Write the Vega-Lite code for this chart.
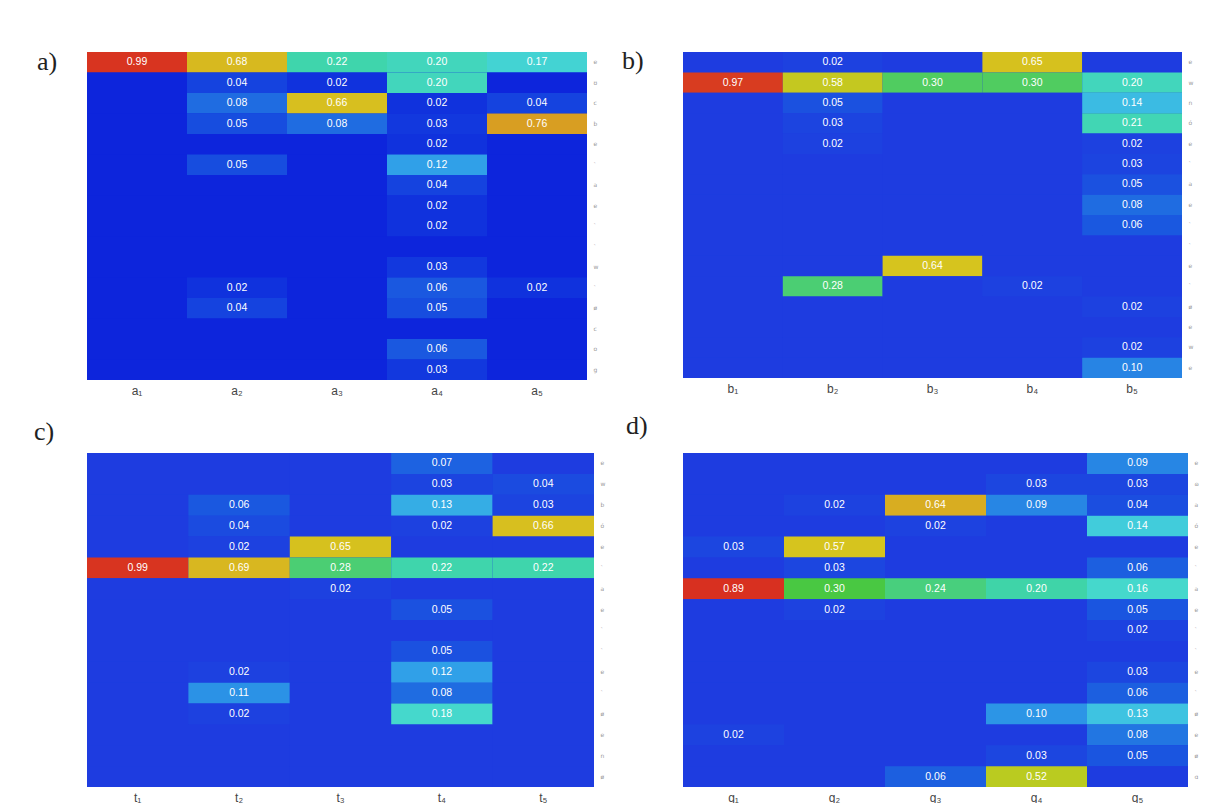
{
  "$schema": "https://vega.github.io/schema/vega-lite/v6.json",
  "background": "white",
  "padding": {"left": 34, "top": 48, "right": 0, "bottom": 0},
  "autosize": {"type": "pad"},
  "config": {
    "view": {"stroke": null},
    "axis": {"ticks": false, "domain": false, "grid": false, "title": null},
    "title": {"font": "Liberation Serif", "fontSize": 26, "fontWeight": "normal", "color": "#222222", "orient": "top", "anchor": "start", "frame": "group", "baseline": "top", "offset": 0}
  },
  "columns": 2,
  "spacing": {"row": 73, "column": 89},
  "bounds": "flush",
  "resolve": {"scale": {"x": "independent", "y": "independent", "color": "independent"}},
  "datasets": {
    "a": [
      {"c":"a₁","r":1,"v":0.99},{"c":"a₂","r":1,"v":0.68},{"c":"a₃","r":1,"v":0.22},{"c":"a₄","r":1,"v":0.20},{"c":"a₅","r":1,"v":0.17},
      {"c":"a₁","r":2,"v":0},{"c":"a₂","r":2,"v":0.04},{"c":"a₃","r":2,"v":0.02},{"c":"a₄","r":2,"v":0.20},{"c":"a₅","r":2,"v":0},
      {"c":"a₁","r":3,"v":0},{"c":"a₂","r":3,"v":0.08},{"c":"a₃","r":3,"v":0.66},{"c":"a₄","r":3,"v":0.02},{"c":"a₅","r":3,"v":0.04},
      {"c":"a₁","r":4,"v":0},{"c":"a₂","r":4,"v":0.05},{"c":"a₃","r":4,"v":0.08},{"c":"a₄","r":4,"v":0.03},{"c":"a₅","r":4,"v":0.76},
      {"c":"a₁","r":5,"v":0},{"c":"a₂","r":5,"v":0},{"c":"a₃","r":5,"v":0},{"c":"a₄","r":5,"v":0.02},{"c":"a₅","r":5,"v":0},
      {"c":"a₁","r":6,"v":0},{"c":"a₂","r":6,"v":0.05},{"c":"a₃","r":6,"v":0},{"c":"a₄","r":6,"v":0.12},{"c":"a₅","r":6,"v":0},
      {"c":"a₁","r":7,"v":0},{"c":"a₂","r":7,"v":0},{"c":"a₃","r":7,"v":0},{"c":"a₄","r":7,"v":0.04},{"c":"a₅","r":7,"v":0},
      {"c":"a₁","r":8,"v":0},{"c":"a₂","r":8,"v":0},{"c":"a₃","r":8,"v":0},{"c":"a₄","r":8,"v":0.02},{"c":"a₅","r":8,"v":0},
      {"c":"a₁","r":9,"v":0},{"c":"a₂","r":9,"v":0},{"c":"a₃","r":9,"v":0},{"c":"a₄","r":9,"v":0.02},{"c":"a₅","r":9,"v":0},
      {"c":"a₁","r":10,"v":0},{"c":"a₂","r":10,"v":0},{"c":"a₃","r":10,"v":0},{"c":"a₄","r":10,"v":0},{"c":"a₅","r":10,"v":0},
      {"c":"a₁","r":11,"v":0},{"c":"a₂","r":11,"v":0},{"c":"a₃","r":11,"v":0},{"c":"a₄","r":11,"v":0.03},{"c":"a₅","r":11,"v":0},
      {"c":"a₁","r":12,"v":0},{"c":"a₂","r":12,"v":0.02},{"c":"a₃","r":12,"v":0},{"c":"a₄","r":12,"v":0.06},{"c":"a₅","r":12,"v":0.02},
      {"c":"a₁","r":13,"v":0},{"c":"a₂","r":13,"v":0.04},{"c":"a₃","r":13,"v":0},{"c":"a₄","r":13,"v":0.05},{"c":"a₅","r":13,"v":0},
      {"c":"a₁","r":14,"v":0},{"c":"a₂","r":14,"v":0},{"c":"a₃","r":14,"v":0},{"c":"a₄","r":14,"v":0},{"c":"a₅","r":14,"v":0},
      {"c":"a₁","r":15,"v":0},{"c":"a₂","r":15,"v":0},{"c":"a₃","r":15,"v":0},{"c":"a₄","r":15,"v":0.06},{"c":"a₅","r":15,"v":0},
      {"c":"a₁","r":16,"v":0},{"c":"a₂","r":16,"v":0},{"c":"a₃","r":16,"v":0},{"c":"a₄","r":16,"v":0.03},{"c":"a₅","r":16,"v":0}
    ],
    "b": [
      {"c":"b₁","r":1,"v":0},{"c":"b₂","r":1,"v":0.02},{"c":"b₃","r":1,"v":0},{"c":"b₄","r":1,"v":0.65},{"c":"b₅","r":1,"v":0},
      {"c":"b₁","r":2,"v":0.97},{"c":"b₂","r":2,"v":0.58},{"c":"b₃","r":2,"v":0.30},{"c":"b₄","r":2,"v":0.30},{"c":"b₅","r":2,"v":0.20},
      {"c":"b₁","r":3,"v":0},{"c":"b₂","r":3,"v":0.05},{"c":"b₃","r":3,"v":0},{"c":"b₄","r":3,"v":0},{"c":"b₅","r":3,"v":0.14},
      {"c":"b₁","r":4,"v":0},{"c":"b₂","r":4,"v":0.03},{"c":"b₃","r":4,"v":0},{"c":"b₄","r":4,"v":0},{"c":"b₅","r":4,"v":0.21},
      {"c":"b₁","r":5,"v":0},{"c":"b₂","r":5,"v":0.02},{"c":"b₃","r":5,"v":0},{"c":"b₄","r":5,"v":0},{"c":"b₅","r":5,"v":0.02},
      {"c":"b₁","r":6,"v":0},{"c":"b₂","r":6,"v":0},{"c":"b₃","r":6,"v":0},{"c":"b₄","r":6,"v":0},{"c":"b₅","r":6,"v":0.03},
      {"c":"b₁","r":7,"v":0},{"c":"b₂","r":7,"v":0},{"c":"b₃","r":7,"v":0},{"c":"b₄","r":7,"v":0},{"c":"b₅","r":7,"v":0.05},
      {"c":"b₁","r":8,"v":0},{"c":"b₂","r":8,"v":0},{"c":"b₃","r":8,"v":0},{"c":"b₄","r":8,"v":0},{"c":"b₅","r":8,"v":0.08},
      {"c":"b₁","r":9,"v":0},{"c":"b₂","r":9,"v":0},{"c":"b₃","r":9,"v":0},{"c":"b₄","r":9,"v":0},{"c":"b₅","r":9,"v":0.06},
      {"c":"b₁","r":10,"v":0},{"c":"b₂","r":10,"v":0},{"c":"b₃","r":10,"v":0},{"c":"b₄","r":10,"v":0},{"c":"b₅","r":10,"v":0},
      {"c":"b₁","r":11,"v":0},{"c":"b₂","r":11,"v":0},{"c":"b₃","r":11,"v":0.64},{"c":"b₄","r":11,"v":0},{"c":"b₅","r":11,"v":0},
      {"c":"b₁","r":12,"v":0},{"c":"b₂","r":12,"v":0.28},{"c":"b₃","r":12,"v":0},{"c":"b₄","r":12,"v":0.02},{"c":"b₅","r":12,"v":0},
      {"c":"b₁","r":13,"v":0},{"c":"b₂","r":13,"v":0},{"c":"b₃","r":13,"v":0},{"c":"b₄","r":13,"v":0},{"c":"b₅","r":13,"v":0.02},
      {"c":"b₁","r":14,"v":0},{"c":"b₂","r":14,"v":0},{"c":"b₃","r":14,"v":0},{"c":"b₄","r":14,"v":0},{"c":"b₅","r":14,"v":0},
      {"c":"b₁","r":15,"v":0},{"c":"b₂","r":15,"v":0},{"c":"b₃","r":15,"v":0},{"c":"b₄","r":15,"v":0},{"c":"b₅","r":15,"v":0.02},
      {"c":"b₁","r":16,"v":0},{"c":"b₂","r":16,"v":0},{"c":"b₃","r":16,"v":0},{"c":"b₄","r":16,"v":0},{"c":"b₅","r":16,"v":0.10}
    ],
    "c": [
      {"c":"t₁","r":1,"v":0},{"c":"t₂","r":1,"v":0},{"c":"t₃","r":1,"v":0},{"c":"t₄","r":1,"v":0.07},{"c":"t₅","r":1,"v":0},
      {"c":"t₁","r":2,"v":0},{"c":"t₂","r":2,"v":0},{"c":"t₃","r":2,"v":0},{"c":"t₄","r":2,"v":0.03},{"c":"t₅","r":2,"v":0.04},
      {"c":"t₁","r":3,"v":0},{"c":"t₂","r":3,"v":0.06},{"c":"t₃","r":3,"v":0},{"c":"t₄","r":3,"v":0.13},{"c":"t₅","r":3,"v":0.03},
      {"c":"t₁","r":4,"v":0},{"c":"t₂","r":4,"v":0.04},{"c":"t₃","r":4,"v":0},{"c":"t₄","r":4,"v":0.02},{"c":"t₅","r":4,"v":0.66},
      {"c":"t₁","r":5,"v":0},{"c":"t₂","r":5,"v":0.02},{"c":"t₃","r":5,"v":0.65},{"c":"t₄","r":5,"v":0},{"c":"t₅","r":5,"v":0},
      {"c":"t₁","r":6,"v":0.99},{"c":"t₂","r":6,"v":0.69},{"c":"t₃","r":6,"v":0.28},{"c":"t₄","r":6,"v":0.22},{"c":"t₅","r":6,"v":0.22},
      {"c":"t₁","r":7,"v":0},{"c":"t₂","r":7,"v":0},{"c":"t₃","r":7,"v":0.02},{"c":"t₄","r":7,"v":0},{"c":"t₅","r":7,"v":0},
      {"c":"t₁","r":8,"v":0},{"c":"t₂","r":8,"v":0},{"c":"t₃","r":8,"v":0},{"c":"t₄","r":8,"v":0.05},{"c":"t₅","r":8,"v":0},
      {"c":"t₁","r":9,"v":0},{"c":"t₂","r":9,"v":0},{"c":"t₃","r":9,"v":0},{"c":"t₄","r":9,"v":0},{"c":"t₅","r":9,"v":0},
      {"c":"t₁","r":10,"v":0},{"c":"t₂","r":10,"v":0},{"c":"t₃","r":10,"v":0},{"c":"t₄","r":10,"v":0.05},{"c":"t₅","r":10,"v":0},
      {"c":"t₁","r":11,"v":0},{"c":"t₂","r":11,"v":0.02},{"c":"t₃","r":11,"v":0},{"c":"t₄","r":11,"v":0.12},{"c":"t₅","r":11,"v":0},
      {"c":"t₁","r":12,"v":0},{"c":"t₂","r":12,"v":0.11},{"c":"t₃","r":12,"v":0},{"c":"t₄","r":12,"v":0.08},{"c":"t₅","r":12,"v":0},
      {"c":"t₁","r":13,"v":0},{"c":"t₂","r":13,"v":0.02},{"c":"t₃","r":13,"v":0},{"c":"t₄","r":13,"v":0.18},{"c":"t₅","r":13,"v":0},
      {"c":"t₁","r":14,"v":0},{"c":"t₂","r":14,"v":0},{"c":"t₃","r":14,"v":0},{"c":"t₄","r":14,"v":0},{"c":"t₅","r":14,"v":0},
      {"c":"t₁","r":15,"v":0},{"c":"t₂","r":15,"v":0},{"c":"t₃","r":15,"v":0},{"c":"t₄","r":15,"v":0},{"c":"t₅","r":15,"v":0},
      {"c":"t₁","r":16,"v":0},{"c":"t₂","r":16,"v":0},{"c":"t₃","r":16,"v":0},{"c":"t₄","r":16,"v":0},{"c":"t₅","r":16,"v":0}
    ],
    "d": [
      {"c":"g₁","r":1,"v":0},{"c":"g₂","r":1,"v":0},{"c":"g₃","r":1,"v":0},{"c":"g₄","r":1,"v":0},{"c":"g₅","r":1,"v":0.09},
      {"c":"g₁","r":2,"v":0},{"c":"g₂","r":2,"v":0},{"c":"g₃","r":2,"v":0},{"c":"g₄","r":2,"v":0.03},{"c":"g₅","r":2,"v":0.03},
      {"c":"g₁","r":3,"v":0},{"c":"g₂","r":3,"v":0.02},{"c":"g₃","r":3,"v":0.64},{"c":"g₄","r":3,"v":0.09},{"c":"g₅","r":3,"v":0.04},
      {"c":"g₁","r":4,"v":0},{"c":"g₂","r":4,"v":0},{"c":"g₃","r":4,"v":0.02},{"c":"g₄","r":4,"v":0},{"c":"g₅","r":4,"v":0.14},
      {"c":"g₁","r":5,"v":0.03},{"c":"g₂","r":5,"v":0.57},{"c":"g₃","r":5,"v":0},{"c":"g₄","r":5,"v":0},{"c":"g₅","r":5,"v":0},
      {"c":"g₁","r":6,"v":0},{"c":"g₂","r":6,"v":0.03},{"c":"g₃","r":6,"v":0},{"c":"g₄","r":6,"v":0},{"c":"g₅","r":6,"v":0.06},
      {"c":"g₁","r":7,"v":0.89},{"c":"g₂","r":7,"v":0.30},{"c":"g₃","r":7,"v":0.24},{"c":"g₄","r":7,"v":0.20},{"c":"g₅","r":7,"v":0.16},
      {"c":"g₁","r":8,"v":0},{"c":"g₂","r":8,"v":0.02},{"c":"g₃","r":8,"v":0},{"c":"g₄","r":8,"v":0},{"c":"g₅","r":8,"v":0.05},
      {"c":"g₁","r":9,"v":0},{"c":"g₂","r":9,"v":0},{"c":"g₃","r":9,"v":0},{"c":"g₄","r":9,"v":0},{"c":"g₅","r":9,"v":0.02},
      {"c":"g₁","r":10,"v":0},{"c":"g₂","r":10,"v":0},{"c":"g₃","r":10,"v":0},{"c":"g₄","r":10,"v":0},{"c":"g₅","r":10,"v":0},
      {"c":"g₁","r":11,"v":0},{"c":"g₂","r":11,"v":0},{"c":"g₃","r":11,"v":0},{"c":"g₄","r":11,"v":0},{"c":"g₅","r":11,"v":0.03},
      {"c":"g₁","r":12,"v":0},{"c":"g₂","r":12,"v":0},{"c":"g₃","r":12,"v":0},{"c":"g₄","r":12,"v":0},{"c":"g₅","r":12,"v":0.06},
      {"c":"g₁","r":13,"v":0},{"c":"g₂","r":13,"v":0},{"c":"g₃","r":13,"v":0},{"c":"g₄","r":13,"v":0.10},{"c":"g₅","r":13,"v":0.13},
      {"c":"g₁","r":14,"v":0.02},{"c":"g₂","r":14,"v":0},{"c":"g₃","r":14,"v":0},{"c":"g₄","r":14,"v":0},{"c":"g₅","r":14,"v":0.08},
      {"c":"g₁","r":15,"v":0},{"c":"g₂","r":15,"v":0},{"c":"g₃","r":15,"v":0},{"c":"g₄","r":15,"v":0.03},{"c":"g₅","r":15,"v":0.05},
      {"c":"g₁","r":16,"v":0},{"c":"g₂","r":16,"v":0},{"c":"g₃","r":16,"v":0.06},{"c":"g₄","r":16,"v":0.52},{"c":"g₅","r":16,"v":0}
    ]
  },
  "concat": [
    {
      "width": 500, "height": 328,
      "view": {"fill": "#0d25dc", "stroke": null},
      "data": {"name": "a"},
      "title": {"text": "a)", "dx": -50, "dy": 27},
      "encoding": {
        "x": {"field": "c", "type": "ordinal", "axis": {"orient": "bottom", "labelAngle": 0, "labelFont": "Liberation Sans", "labelFontSize": 12, "labelColor": "#444444", "labelPadding": 5}},
        "y": {"field": "r", "type": "ordinal", "axis": {"orient": "right", "labelFont": "DejaVu Sans", "labelFontSize": 6, "labelColor": "#999999", "labelPadding": 6, "labelExpr": "['e','ʊ','c','b','e','ˋ','a','e','ˋ','ˋ','w','ˋ','ø','c','o','g'][datum.value-1]"}}
      },
      "layer": [
        {"mark": {"type": "rect", "strokeWidth": 0},
         "encoding": {"color": {"field": "v", "type": "quantitative", "legend": null,
           "scale": {"type": "linear", "interpolate": "rgb", "clamp": true, "zero": false, "nice": false,
             "domain": [0,0.03,0.06,0.09,0.12,0.15,0.18,0.23,0.30,0.34,0.50,0.58,0.64,0.70,0.77,0.88,1.0],
             "range": ["#0d25dc","#1238de","#1a58e0","#2276e2","#30a0e8","#40c8e0","#45d8cc","#3ed4a4","#50cc60","#48c840","#90cc28","#b8cc20","#d6c41e","#d8b420","#d89a22","#d86020","#d83020"]}}}},
        {"transform": [{"filter": "datum.v > 0"}],
         "mark": {"type": "text", "font": "Liberation Sans", "fontSize": 10.5, "color": "white"},
         "encoding": {"text": {"field": "v", "type": "quantitative", "format": ".2f"}}}
      ]
    },
    {
      "width": 499, "height": 326,
      "view": {"fill": "#1e3ce0", "stroke": null},
      "data": {"name": "b"},
      "title": {"text": "b)", "dx": -61, "dy": 26},
      "encoding": {
        "x": {"field": "c", "type": "ordinal", "axis": {"orient": "bottom", "labelAngle": 0, "labelFont": "Liberation Sans", "labelFontSize": 12, "labelColor": "#444444", "labelPadding": 5}},
        "y": {"field": "r", "type": "ordinal", "axis": {"orient": "right", "labelFont": "DejaVu Sans", "labelFontSize": 6, "labelColor": "#999999", "labelPadding": 6, "labelExpr": "['e','w','n','ó','e','ˋ','a','e','ˋ','ˋ','e','ˋ','ø','e','w','e'][datum.value-1]"}}
      },
      "layer": [
        {"mark": {"type": "rect", "strokeWidth": 0},
         "encoding": {"color": {"field": "v", "type": "quantitative", "legend": null,
           "scale": {"type": "linear", "interpolate": "rgb", "clamp": true, "zero": false, "nice": false,
             "domain": [0,0.03,0.06,0.09,0.12,0.15,0.18,0.23,0.30,0.34,0.50,0.58,0.64,0.70,0.77,0.88,1.0],
             "range": ["#1e3ce0","#1c44e0","#1a58e0","#2276e2","#30a0e8","#40c8e0","#45d8cc","#3ed4a4","#50cc60","#48c840","#90cc28","#c4c820","#d6c41e","#d8b420","#d89a22","#d86020","#d83020"]}}}},
        {"transform": [{"filter": "datum.v > 0"}],
         "mark": {"type": "text", "font": "Liberation Sans", "fontSize": 10.5, "color": "white"},
         "encoding": {"text": {"field": "v", "type": "quantitative", "format": ".2f"}}}
      ]
    },
    {
      "width": 507, "height": 334,
      "view": {"fill": "#1e3ce0", "stroke": null},
      "data": {"name": "c"},
      "title": {"text": "c)", "dx": -53, "dy": -4},
      "encoding": {
        "x": {"field": "c", "type": "ordinal", "axis": {"orient": "bottom", "labelAngle": 0, "labelFont": "Liberation Sans", "labelFontSize": 12, "labelColor": "#444444", "labelPadding": 5}},
        "y": {"field": "r", "type": "ordinal", "axis": {"orient": "right", "labelFont": "DejaVu Sans", "labelFontSize": 6, "labelColor": "#999999", "labelPadding": 6, "labelExpr": "['e','w','b','ó','e','ˋ','a','e','ˋ','ˋ','e','ˋ','ø','e','n','ø'][datum.value-1]"}}
      },
      "layer": [
        {"mark": {"type": "rect", "strokeWidth": 0},
         "encoding": {"color": {"field": "v", "type": "quantitative", "legend": null,
           "scale": {"type": "linear", "interpolate": "rgb", "clamp": true, "zero": false, "nice": false,
             "domain": [0,0.03,0.06,0.09,0.12,0.15,0.18,0.23,0.30,0.34,0.50,0.58,0.64,0.70,0.77,0.88,1.0],
             "range": ["#1e3ce0","#1c44e0","#1a58e0","#2276e2","#30a0e8","#40c8e0","#45d8cc","#3ed4a4","#50cc60","#48c840","#90cc28","#b8cc20","#d6c41e","#d8b420","#d89a22","#d86020","#d83020"]}}}},
        {"transform": [{"filter": "datum.v > 0"}],
         "mark": {"type": "text", "font": "Liberation Sans", "fontSize": 10.5, "color": "white"},
         "encoding": {"text": {"field": "v", "type": "quantitative", "format": ".2f"}}}
      ]
    },
    {
      "width": 505, "height": 334,
      "view": {"fill": "#1e3ce0", "stroke": null},
      "data": {"name": "d"},
      "title": {"text": "d)", "dx": -57, "dy": -10},
      "encoding": {
        "x": {"field": "c", "type": "ordinal", "axis": {"orient": "bottom", "labelAngle": 0, "labelFont": "Liberation Sans", "labelFontSize": 12, "labelColor": "#444444", "labelPadding": 5}},
        "y": {"field": "r", "type": "ordinal", "axis": {"orient": "right", "labelFont": "DejaVu Sans", "labelFontSize": 6, "labelColor": "#999999", "labelPadding": 6, "labelExpr": "['e','ɷ','a','ó','e','ˋ','a','e','ˋ','ˋ','e','ˋ','ø','e','ø','ɑ'][datum.value-1]"}}
      },
      "layer": [
        {"mark": {"type": "rect", "strokeWidth": 0},
         "encoding": {"color": {"field": "v", "type": "quantitative", "legend": null,
           "scale": {"type": "linear", "interpolate": "rgb", "clamp": true, "zero": false, "nice": false,
             "domain": [0,0.0267,0.0534,0.0801,0.1068,0.1335,0.1602,0.2047,0.267,0.3026,0.445,0.5162,0.5696,0.623,0.6853,0.7832,0.89],
             "range": ["#1e3ce0","#1c44e0","#1a58e0","#2276e2","#30a0e8","#40c8e0","#45d8cc","#3ed4a4","#50cc60","#48c840","#90cc28","#b8cc20","#d6c41e","#d8b420","#d89a22","#d86020","#d83020"]}}}},
        {"transform": [{"filter": "datum.v > 0"}],
         "mark": {"type": "text", "font": "Liberation Sans", "fontSize": 10.5, "color": "white"},
         "encoding": {"text": {"field": "v", "type": "quantitative", "format": ".2f"}}}
      ]
    }
  ]
}
